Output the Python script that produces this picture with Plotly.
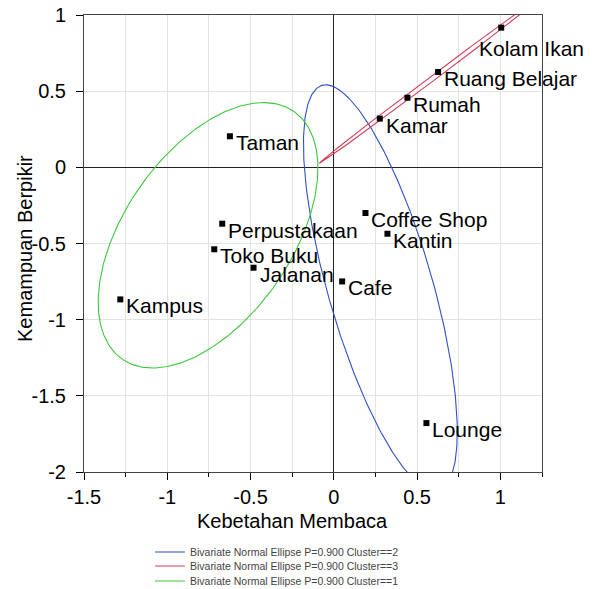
import numpy as np
import plotly.graph_objects as go

# ---- data ----
names = ["Kolam Ikan", "Ruang Belajar", "Rumah", "Kamar",
         "Taman", "Perpustakaan", "Toko Buku", "Jalanan", "Kampus",
         "Coffee Shop", "Kantin", "Cafe", "Lounge"]
kebetahan = [1.005, 0.626, 0.442, 0.276,
             -0.624, -0.670, -0.718, -0.482, -1.282,
             0.190, 0.322, 0.050, 0.556]
kemampuan = [0.917, 0.626, 0.457, 0.320,
             0.204, -0.370, -0.538, -0.659, -0.867,
             -0.300, -0.436, -0.749, -1.679]
cluster = [3, 3, 3, 3,
           1, 1, 1, 1, 1,
           2, 2, 2, 2]

legend_order = [2, 3, 1]
cluster_colors = {1: "#3cc83c", 2: "#3050c8", 3: "#d23c5a"}
P = 0.900

x_ticks = [-1.5, -1, -0.5, 0, 0.5, 1]
y_ticks = [-2, -1.5, -1, -0.5, 0, 0.5, 1]

x_title = "Kebetahan Membaca"
y_title = "Kemampuan Berpikir"

# label offsets (pixels) - default right/below, Kolam Ikan moved
label_shift = {"Kolam Ikan": (-24, -21)}

fig = go.Figure()

kx = np.array(kebetahan)
ky = np.array(kemampuan)
cl = np.array(cluster)
kscale = np.sqrt(-2.0 * np.log(1.0 - P))
t = np.linspace(0, 2 * np.pi, 361)

legend_ids = ["legend", "legend2", "legend3"]
legend_rows_y = [-0.175, -0.2057, -0.2385]

for i, c in enumerate(legend_order):
    sel = cl == c
    pts = np.vstack([kx[sel], ky[sel]])
    m = pts.mean(axis=1)
    C = np.cov(pts)
    vals, vecs = np.linalg.eigh(C)
    circ = np.vstack([np.cos(t), np.sin(t)])
    ell = m[:, None] + kscale * vecs @ (np.sqrt(np.maximum(vals, 0))[:, None] * circ)
    fig.add_trace(go.Scatter(
        x=ell[0], y=ell[1], mode="lines",
        line=dict(color=cluster_colors[c], width=1.1),
        name=f"Bivariate Normal Ellipse P={P:.3f} Cluster=={c}",
        legend=legend_ids[i],
        hoverinfo="skip"))

fig.add_trace(go.Scatter(
    x=kebetahan, y=kemampuan, mode="markers",
    marker=dict(symbol="square", size=6, color="black"),
    showlegend=False, text=names))

for n, x, y in zip(names, kebetahan, kemampuan):
    dx, dy = label_shift.get(n, (4, -6.5))
    fig.add_annotation(x=x, y=y, text=n, showarrow=False,
                       xanchor="left", yanchor="middle",
                       xshift=dx, yshift=dy,
                       font=dict(size=21, color="black"))

# axis titles
fig.add_annotation(xref="paper", yref="paper", x=0.455, y=-0.107,
                   text=x_title, showarrow=False, xanchor="center", yanchor="middle",
                   font=dict(size=20, color="black"))
fig.add_annotation(xref="paper", yref="paper", x=-0.129, y=0.49,
                   text=y_title, showarrow=False, textangle=-90,
                   xanchor="center", yanchor="middle",
                   font=dict(size=20, color="black"))

leg_common = dict(xanchor="left", yanchor="middle",
                  font=dict(size=10.5, color="#444"),
                  itemwidth=30, bgcolor="rgba(0,0,0,0)")
fig.update_layout(
    width=600, height=589,
    margin=dict(l=84, r=58, t=15, b=117, autoexpand=False),
    paper_bgcolor="white", plot_bgcolor="white",
    font=dict(family="Liberation Sans, Arial, sans-serif", color="black"),
    showlegend=True,
    hovermode=False,
    legend=dict(x=0.144, y=legend_rows_y[0], **leg_common),
    legend2=dict(x=0.144, y=legend_rows_y[1], **leg_common),
    legend3=dict(x=0.144, y=legend_rows_y[2], **leg_common),
)

fig.update_xaxes(
    range=[-1.5, 1.25], tickvals=x_ticks, ticktext=[f"{v:g}" for v in x_ticks],
    ticks="outside", ticklen=7, tickcolor="black",
    minor=dict(dtick=0.25, tick0=0, ticks="outside", ticklen=4, tickcolor="black",
               showgrid=True, gridcolor="#e3e3e3"),
    showgrid=True, gridcolor="#e3e3e3", gridwidth=1,
    zeroline=True, zerolinecolor="#222", zerolinewidth=1,
    showline=True, linecolor="#444", linewidth=1, mirror=True,
    tickfont=dict(size=20), automargin=False,
)
fig.update_yaxes(
    range=[-2, 1], tickvals=y_ticks, ticktext=[f"{v:g}" for v in y_ticks],
    ticks="outside", ticklen=7, tickcolor="black",
    showgrid=True, gridcolor="#e3e3e3", gridwidth=1,
    zeroline=True, zerolinecolor="#222", zerolinewidth=1,
    showline=True, linecolor="#444", linewidth=1, mirror=True,
    tickfont=dict(size=20), ticklabelstandoff=6, automargin=False,
)

fig.write_html("out.html",
               config={"displayModeBar": False},
               post_script="document.body.style.margin='0px';document.body.style.overflow='hidden';")
